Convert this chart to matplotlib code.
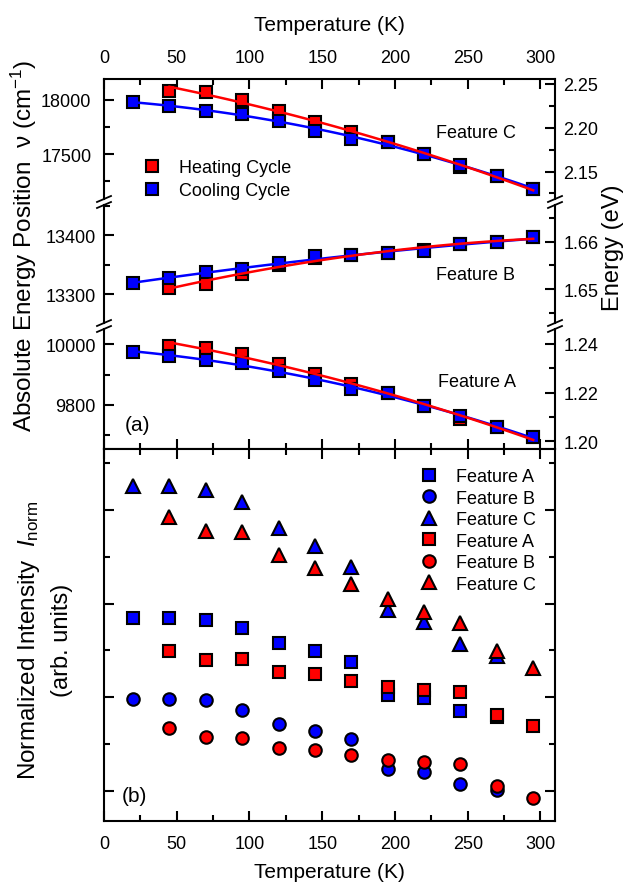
import numpy as np
import matplotlib
matplotlib.use("Agg")
import matplotlib.pyplot as plt
from matplotlib.ticker import MultipleLocator, FormatStrFormatter
from matplotlib.lines import Line2D

plt.rcParams['font.family'] = ['Liberation Sans', 'DejaVu Sans']
plt.rcParams['mathtext.fontset'] = 'custom'
plt.rcParams['mathtext.rm'] = 'Liberation Sans'
plt.rcParams['mathtext.it'] = 'Liberation Sans:italic'
plt.rcParams['axes.linewidth'] = 1.5

# temperatures (K)
temp_cool = [20, 45, 70, 95, 120, 145, 170, 195, 220, 245, 270, 295]
temp_heat = [45, 70, 95, 120, 145, 170, 195, 220, 245, 270, 295]

# absolute energy positions (cm^-1), panel (a)
featC_heat = [18086, 18077, 18003, 17896, 17800, 17706, 17616, 17503, 17380, 17297, 17180]
featC_cool = [17979, 17948, 17902, 17871, 17804, 17711, 17645, 17616, 17503, 17401, 17297, 17180]
featB_heat = [13311, 13317, 13334, 13350, 13362, 13366, 13370, 13374, 13385, 13389, 13397]
featB_cool = [13319, 13327, 13337, 13342, 13353, 13364, 13367, 13369, 13373, 13385, 13388, 13396]
featA_heat = [9996, 9987, 9968, 9935, 9902, 9870, 9839, 9797, 9752, 9725, 9692]
featA_cool = [9974, 9963, 9949, 9939, 9911, 9882, 9851, 9839, 9797, 9761, 9725, 9694]

# normalized intensities (arb. units), panel (b)
temp_cool_b = [20, 45, 70, 95, 120, 145, 170, 195, 220, 245, 270]
intA_cool = [2.85, 2.85, 2.83, 2.74, 2.58, 2.49, 2.38, 2.02, 1.99, 1.85, 1.79]
intB_cool = [1.98, 1.98, 1.97, 1.86, 1.71, 1.64, 1.55, 1.23, 1.20, 1.08, 1.01]
intC_cool = [4.26, 4.26, 4.21, 4.08, 3.81, 3.62, 3.39, 2.93, 2.80, 2.57, 2.44]
intA_heat = [2.49, 2.40, 2.41, 2.27, 2.25, 2.17, 2.11, 2.08, 2.06, 1.81, 1.69]
intB_heat = [1.67, 1.58, 1.57, 1.46, 1.44, 1.38, 1.33, 1.31, 1.29, 1.05, 0.93]
intC_heat = [3.92, 3.77, 3.76, 3.52, 3.38, 3.21, 3.05, 2.91, 2.79, 2.49, 2.31]

RED = '#FF0000'
BLUE = '#0000FF'
W, H = 630, 887


def fx(x):
    return x / W


def fy(y):
    return 1 - y / H


def rect(x0, y0, x1, y1):
    return [fx(x0), fy(y1), fx(x1) - fx(x0), fy(y0) - fy(y1)]


def to_ev(v):
    return v / 8065.54


def to_cm(e):
    return e * 8065.54


fig = plt.figure(figsize=(W / 100, H / 100), dpi=100)

L, R = 104, 555
ax_c = fig.add_axes(rect(L, 80, R, 200))
ax_b = fig.add_axes(rect(L, 206, R, 324))
ax_a = fig.add_axes(rect(L, 330, R, 450))
ax_i = fig.add_axes(rect(L, 450, R, 822))

panels = [
    (ax_c, featC_heat, featC_cool, (17088, 18193), [17500, 18000], 250, [2.15, 2.20, 2.25], 0.025),
    (ax_b, featB_heat, featB_cool, (13251, 13451), [13300, 13400], 50, [1.65, 1.66], 0.005),
    (ax_a, featA_heat, featA_cool, (9653, 10051), [9800, 10000], 100, [1.20, 1.22, 1.24], 0.01),
]

xfit_heat = np.linspace(45, 295, 100)
xfit_cool = np.linspace(20, 295, 100)

for ax, heat, cool, ylim, yt, ymin, et, emin in panels:
    ax.plot(temp_heat, heat, 's', color=RED, mec='black', mew=1.5, ms=8, zorder=3)
    ax.plot(temp_cool, cool, 's', color=BLUE, mec='black', mew=1.5, ms=8, zorder=3)
    ph = np.polyfit(temp_heat, heat, 2)
    pc = np.polyfit(temp_cool, cool, 2)
    ax.plot(xfit_cool, np.polyval(pc, xfit_cool), color=BLUE, lw=1.8, zorder=4)
    ax.plot(xfit_heat, np.polyval(ph, xfit_heat), color=RED, lw=1.8, zorder=4)
    ax.set_xlim(0, 310)
    ax.set_ylim(*ylim)
    ax.set_yticks(yt)
    ax.yaxis.set_minor_locator(MultipleLocator(ymin))
    ax.xaxis.set_major_locator(MultipleLocator(50))
    ax.xaxis.set_minor_locator(MultipleLocator(25))
    ax.tick_params(which='both', direction='in', width=1.5, labelsize=13,
                   right=False, top=False, bottom=False, labelbottom=False)
    ax.tick_params(which='major', length=7, pad=6)
    ax.tick_params(which='minor', length=4)
    ax.spines['right'].set_visible(False)
    ax.spines['top'].set_visible(False)
    ax.spines['bottom'].set_visible(False)
    sec = ax.secondary_yaxis('right', functions=(to_ev, to_cm))
    sec.set_yticks(et)
    sec.yaxis.set_minor_locator(MultipleLocator(emin))
    sec.yaxis.set_major_formatter(FormatStrFormatter('%.2f'))
    sec.tick_params(which='both', direction='in', width=1.5, labelsize=13)
    sec.tick_params(which='major', length=7, pad=6)
    sec.tick_params(which='minor', length=4)
    sec.spines['right'].set_linewidth(1.5)

# top axis of panel C, bottom axis of panel A
ax_c.spines['top'].set_visible(True)
ax_c.tick_params(which='both', top=True, labeltop=True)
ax_c.tick_params(which='major', pad=9)
ax_c.set_xticks([0, 50, 100, 150, 200, 250, 300])
ax_c.xaxis.set_label_position('top')
ax_c.set_xlabel('Temperature (K)', fontsize=15, labelpad=14)
ax_a.spines['bottom'].set_visible(True)
ax_a.tick_params(which='both', bottom=True)

ax_c.text(fx(476), fy(134), 'Feature C', transform=fig.transFigure, ha='center', va='center', fontsize=13)
ax_b.text(fx(475), fy(275), 'Feature B', transform=fig.transFigure, ha='center', va='center', fontsize=13)
ax_a.text(fx(477), fy(383), 'Feature A', transform=fig.transFigure, ha='center', va='center', fontsize=13)
ax_a.text(fx(138), fy(426), '(a)', transform=fig.transFigure, ha='center', va='center', fontsize=15)

handles = [Line2D([], [], ls='none', marker='s', color=RED, mec='black', mew=1.5, ms=8),
           Line2D([], [], ls='none', marker='s', color=BLUE, mec='black', mew=1.5, ms=8)]
fig.legend(handles, ['Heating Cycle', 'Cooling Cycle'], loc='upper left',
           bbox_to_anchor=(fx(143), fy(160)), frameon=False, fontsize=13,
           borderpad=0, borderaxespad=0, handlelength=1, handletextpad=1.0,
           labelspacing=0.35)

# break marks on the broken axis
for yg in [203, 327]:
    for xs in [L, R]:
        for dy in [-3, 3]:
            fig.add_artist(Line2D([fx(xs - 7), fx(xs + 7)], [fy(yg + dy + 3), fy(yg + dy - 3)],
                                  color='black', lw=1.3))

fig.text(fx(24), fy(246), 'Absolute Energy Position  ν (cm$^{-1}$)', rotation=90,
         ha='center', va='center', fontsize=17.5)
fig.text(fx(613), fy(248), 'Energy (eV)', rotation=90, ha='center', va='center', fontsize=17)

# panel (b)
ax_i.plot(temp_cool_b, intA_cool, 's', color=BLUE, mec='black', mew=1.5, ms=8, label='Feature A')
ax_i.plot(temp_cool_b, intB_cool, 'o', color=BLUE, mec='black', mew=1.5, ms=9, label='Feature B')
ax_i.plot(temp_cool_b, intC_cool, '^', color=BLUE, mec='black', mew=1.5, ms=10, label='Feature C')
ax_i.plot(temp_heat, intA_heat, 's', color=RED, mec='black', mew=1.5, ms=8, label='Feature A')
ax_i.plot(temp_heat, intB_heat, 'o', color=RED, mec='black', mew=1.5, ms=9, label='Feature B')
ax_i.plot(temp_heat, intC_heat, '^', color=RED, mec='black', mew=1.5, ms=10, label='Feature C')
ax_i.set_xlim(0, 310)
ax_i.set_ylim(0.68, 4.65)
ax_i.set_xticks([0, 50, 100, 150, 200, 250, 300])
ax_i.xaxis.set_minor_locator(MultipleLocator(25))
ax_i.set_yticks([1, 2, 3, 4])
ax_i.yaxis.set_minor_locator(MultipleLocator(0.5))
ax_i.set_yticklabels([])
ax_i.tick_params(which='both', direction='in', width=1.5, labelsize=13,
                 top=True, right=True)
ax_i.tick_params(which='major', length=7, pad=10)
ax_i.tick_params(which='minor', length=4)
ax_i.set_xlabel('Temperature (K)', fontsize=15, labelpad=7)
ax_i.text(fx(134), fy(797), '(b)', transform=fig.transFigure, ha='center', va='center', fontsize=15)
ax_i.legend(loc='upper left', bbox_to_anchor=(fx(420), fy(469)), bbox_transform=fig.transFigure,
            frameon=False, fontsize=13, borderpad=0, borderaxespad=0, handlelength=1,
            handletextpad=1.0, labelspacing=0.25)

fig.text(fx(29), fy(640), r'Normalized Intensity  $I_{\mathrm{norm}}$', rotation=90,
         ha='center', va='center', fontsize=17.5)
fig.text(fx(62), fy(640), '(arb. units)', rotation=90, ha='center', va='center', fontsize=17)

fig.savefig('out.png', dpi=100)
